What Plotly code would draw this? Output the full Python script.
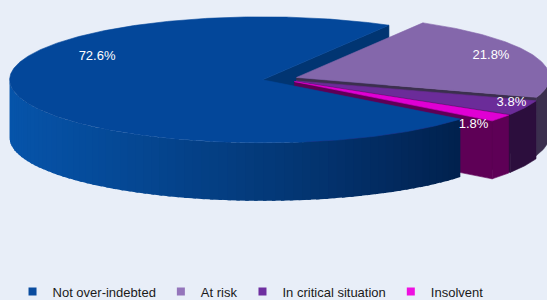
import math
import plotly.graph_objects as go

# ---- data ----
labels = ["Not over-indebted", "At risk", "In critical situation", "Insolvent"]
values = [72.6, 21.8, 3.8, 1.8]
text_labels = ["72.6%", "21.8%", "3.8%", "1.8%"]

# ---- styles ----
top_colors = ["#03479A", "#8467AB", "#6B2C99", "#E000D4"]
legend_colors = ["#0A4C9F", "#9475BB", "#6E2FA0", "#EE10E0"]
side_colors = ["#013572", "#3B2F4E", "#2C0E3D", "#5E0056"]
wall_light = (6, 84, 170)
wall_dark = (0, 22, 58)

# ---- 3D pie geometry (pixel space) ----
CX, CY = 280.0, 79.0
RA, RB = 253.0, 63.0
DEPTH = 58.0
PULL = 0.07
START = 128.6  # degrees clockwise from 12 o'clock
label_r = [0.75, 0.84, 0.92, 0.99]
label_shift = [40, -3, -3, 9]

total = sum(values)
slices = []
ang = START
for i, v in enumerate(values):
    span = v / total * 360.0
    s, e = ang, ang + span
    mid = math.radians((s + e) / 2)
    ax = CX + PULL * RA * math.sin(mid)
    ay = CY - PULL * RB * math.cos(mid)
    slices.append(dict(s=s, e=e, ax=ax, ay=ay))
    ang = e


def rim(sl, phi_deg, r=1.0, dz=0.0):
    p = math.radians(phi_deg)
    return (sl["ax"] + RA * r * math.sin(p), sl["ay"] - RB * r * math.cos(p) + dz)


def arc(sl, a0, a1, dz=0.0, step=1.0):
    n = max(2, int(abs(a1 - a0) / step) + 1)
    return [rim(sl, a0 + (a1 - a0) * k / (n - 1), 1.0, dz) for k in range(n)]


def rgb(c):
    return "rgb(%d,%d,%d)" % c


def lerp(c0, c1, t):
    return tuple(round(c0[j] + (c1[j] - c0[j]) * t) for j in range(3))


def poly(pts, color, lw=0.6):
    xs = [p[0] for p in pts] + [pts[0][0]]
    ys = [p[1] for p in pts] + [pts[0][1]]
    return go.Scatter(x=xs, y=ys, mode="lines", fill="toself", fillcolor=color,
                      line=dict(color=color, width=lw), hoverinfo="skip",
                      showlegend=False)


sides = []  # (depth_key, trace)
for i, sl in enumerate(slices):
    # outer walls on the front half (90..270 deg, also 450..630)
    for lo, hi in ((90, 270), (450, 630)):
        a0, a1 = max(sl["s"], lo), min(sl["e"], hi)
        if a1 <= a0:
            continue
        if i == 0:
            nstrip = max(1, int((a1 - a0) / 2.0))
            for k in range(nstrip):
                b0 = a0 + (a1 - a0) * k / nstrip
                b1 = a0 + (a1 - a0) * (k + 1) / nstrip
                bm = math.radians((b0 + b1) / 2)
                b1e = min(a1, b1 + 0.8)
                light = (1 - math.sin(bm)) / 2
                col = lerp(wall_dark, wall_light, light ** 0.8)
                top = arc(sl, b0, b1e, 0, 0.5)
                bot = arc(sl, b1e, b0, DEPTH, 0.5)
                key = max(p[1] for p in top)
                sides.append((key, poly(top + bot, rgb(col), 0)))
        else:
            top = arc(sl, a0, a1, 0, 0.5)
            bot = arc(sl, a1, a0, DEPTH, 0.5)
            key = max(p[1] for p in top)
            sides.append((key, poly(top + bot, side_colors[i])))
    # radial cut faces that face the viewer
    for edge, normal in ((sl["s"], sl["s"] - 90), (sl["e"], sl["e"] + 90)):
        if math.cos(math.radians(normal)) < 0:
            pr = rim(sl, edge)
            pts = [(sl["ax"], sl["ay"]), pr, (pr[0], pr[1] + DEPTH),
                   (sl["ax"], sl["ay"] + DEPTH)]
            key = max(sl["ay"], pr[1]) - 0.1
            sides.append((key, poly(pts, side_colors[i])))

fig = go.Figure()
for key, tr in sorted(sides, key=lambda t: t[0]):
    fig.add_trace(tr)

# top faces
for i, sl in enumerate(slices):
    pts = [(sl["ax"], sl["ay"])] + arc(sl, sl["s"], sl["e"], 0, 0.5)
    tr = poly(pts, top_colors[i])
    tr.hoverinfo = "text"
    tr.hovertext = "%s: %s" % (labels[i], text_labels[i])
    tr.hoveron = "fills"
    fig.add_trace(tr)

# labels
lx, ly = [], []
for i, sl in enumerate(slices):
    m = (sl["s"] + sl["e"]) / 2 + label_shift[i]
    p = rim(sl, m, label_r[i])
    lx.append(p[0])
    ly.append(p[1])
fig.add_trace(go.Scatter(x=lx, y=ly, mode="text", text=text_labels,
                         textposition="middle center",
                         textfont=dict(family="Arial, Liberation Sans, sans-serif",
                                       size=13, color="white"),
                         hoverinfo="skip", showlegend=False))

# legend entries
for i, lab in enumerate(labels):
    fig.add_trace(go.Scatter(x=[None], y=[None], mode="markers", name=lab,
                             marker=dict(symbol="square", size=8,
                                         color=legend_colors[i]),
                             hoverinfo="skip"))

fig.update_layout(
    width=547, height=300,
    paper_bgcolor="#E8EEF8",
    plot_bgcolor="#E8EEF8",
    margin=dict(l=0, r=0, t=0, b=0, autoexpand=False),
    xaxis=dict(range=[0, 547], visible=False, fixedrange=True),
    yaxis=dict(range=[300, 0], visible=False, fixedrange=True),
    showlegend=True,
    legend=dict(
        orientation="h",
        x=0.458, xanchor="center",
        y=-0.022, yanchor="bottom",
        font=dict(family="Arial, Liberation Sans, sans-serif", size=13, color="#1a1a1a"),
        bgcolor="rgba(0,0,0,0)",
        itemclick=False, itemdoubleclick=False,
    ),
)

fig.write_html("out.html",
               config={"displayModeBar": False},
               post_script="document.body.style.margin='0';document.body.style.overflow='hidden';")
